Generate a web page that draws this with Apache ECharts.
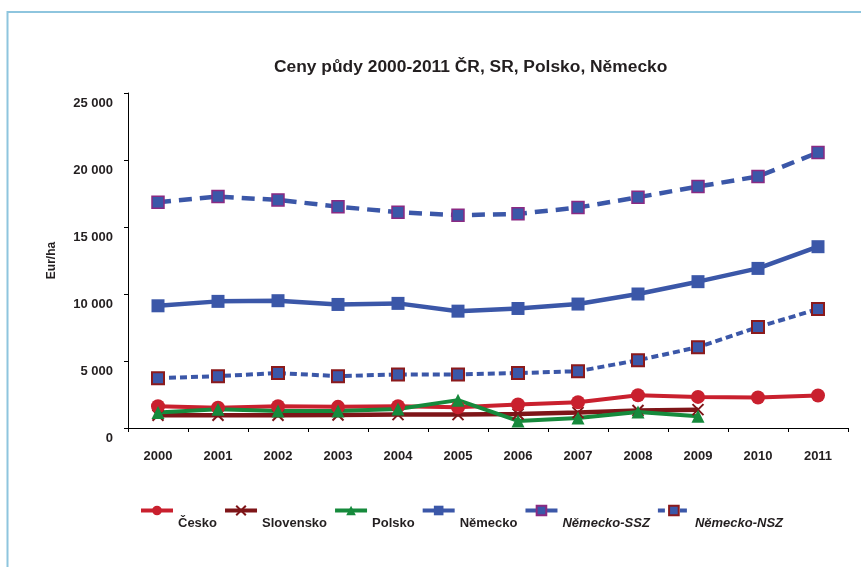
<!DOCTYPE html>
<html>
<head>
<meta charset="utf-8">
<script src="https://cdn.jsdelivr.net/npm/echarts@6/dist/echarts.min.js"></script>
<style>
  html, body { margin: 0; padding: 0; background: #fff; }
  #chart { width: 861px; height: 567px; }
</style>
</head>
<body>
<div id="chart"></div>
<script>
// Land prices (EUR/ha), 2000-2011
const years = ['2000','2001','2002','2003','2004','2005','2006','2007','2008','2009','2010','2011'];
const cesko      = [1620, 1520, 1620, 1580, 1630, 1550, 1750, 1920, 2440, 2320, 2280, 2420];
const slovensko  = [950, 950, 950, 970, 1000, 1000, 1050, 1150, 1300, 1370];
const polsko     = [1150, 1400, 1270, 1270, 1420, 2080, 530, 750, 1200, 870];
const nemecko    = [9120, 9450, 9500, 9220, 9300, 8720, 8920, 9250, 10000, 10920, 11910, 13530];
const nemeckoSSZ = [16850, 17270, 17020, 16520, 16100, 15880, 15980, 16450, 17220, 18020, 18770, 20560];
const nemeckoNSZ = [3720, 3870, 4100, 3870, 4000, 4000, 4100, 4240, 5060, 6030, 7530, 8880];
const yTicks = { min: 0, max: 25000, interval: 5000 };

const FONT = '"Liberation Sans", Arial, sans-serif';
const TXT = '#231f20';
const RED = '#c9202e', DARKRED = '#7e1518', GREEN = '#168a3c', BLUE = '#3b57a8';

const chart = echarts.init(document.getElementById('chart'));
chart.setOption({
  animation: false,
  backgroundColor: '#fff',
  textStyle: { fontFamily: FONT },
  title: {
    text: 'Ceny půdy 2000-2011 ČR, SR, Polsko, Německo',
    left: 269, top: 54,
    textStyle: { fontFamily: FONT, fontSize: 17.4, fontWeight: 'bold', color: TXT }
  },
  graphic: [{
    type: 'rect', silent: true,
    shape: { x: 7.5, y: 12, width: 900, height: 600 },
    style: { fill: 'none', stroke: '#8ec5de', lineWidth: 2 }
  }],
  grid: { left: 128, right: 13, top: 93, bottom: 139 },
  legend: {
    left: 134, top: 486,
    itemWidth: 32, itemHeight: 12, itemGap: 6,
    lineStyle: { width: 4 },
    // legend names sit one line below their line icons
    formatter: name => '\n\n' + name,
    data: [
      { name: 'Česko' },
      { name: 'Slovensko' },
      { name: 'Polsko' },
      { name: 'Německo' },
      { name: 'Německo-SSZ', textStyle: { fontStyle: 'italic' } },
      { name: 'Německo-NSZ', textStyle: { fontStyle: 'italic' } }
    ],
    textStyle: { fontFamily: FONT, fontSize: 13, fontWeight: 'bold', color: TXT, lineHeight: 13 }
  },
  xAxis: {
    type: 'category', data: years, boundaryGap: true,
    axisLine: { lineStyle: { color: '#000', width: 1 } },
    axisTick: { show: true, length: 4, inside: false, lineStyle: { color: '#000' } },
    axisLabel: { margin: 22, fontFamily: FONT, fontSize: 13, fontWeight: 'bold', color: TXT }
  },
  yAxis: {
    type: 'value', min: yTicks.min, max: yTicks.max, interval: yTicks.interval,
    name: 'Eur/ha', nameLocation: 'middle', nameGap: 70, nameRotate: 90,
    nameTextStyle: { fontFamily: FONT, fontSize: 12, fontWeight: 'bold', color: TXT },
    splitLine: { show: false },
    axisLine: { show: true, lineStyle: { color: '#000', width: 1 } },
    axisTick: { show: true, length: 4, lineStyle: { color: '#000' } },
    axisLabel: {
      margin: 15, fontFamily: FONT, fontSize: 13, fontWeight: 'bold', color: TXT,
      verticalAlign: 'top', padding: [4, 0, 0, 0],
      formatter: v => String(v).replace(/\B(?=(\d{3})+(?!\d))/g, ' ')
    }
  },
  series: [
    {
      name: 'Německo-SSZ', type: 'line', data: nemeckoSSZ,
      symbol: 'rect', symbolSize: 12,
      lineStyle: { color: BLUE, width: 4.5, type: [13, 8] },
      itemStyle: { color: BLUE, borderColor: '#8a2a83', borderWidth: 1.5 }
    },
    {
      name: 'Německo', type: 'line', data: nemecko,
      symbol: 'rect', symbolSize: 13,
      lineStyle: { color: BLUE, width: 4.5 },
      itemStyle: { color: BLUE }
    },
    {
      name: 'Německo-NSZ', type: 'line', data: nemeckoNSZ,
      symbol: 'rect', symbolSize: 12,
      lineStyle: { color: BLUE, width: 4, type: [7, 4] },
      itemStyle: { color: BLUE, borderColor: '#8b1a1c', borderWidth: 2 }
    },
    {
      name: 'Slovensko', type: 'line', data: slovensko,
      symbol: 'path://M0,0L10,10M10,0L0,10', symbolSize: 11,
      lineStyle: { color: DARKRED, width: 4.5 },
      itemStyle: { color: DARKRED, borderColor: DARKRED, borderWidth: 2 }
    },
    {
      name: 'Česko', type: 'line', data: cesko,
      symbol: 'circle', symbolSize: 14,
      lineStyle: { color: RED, width: 4 },
      itemStyle: { color: RED }
    },
    {
      name: 'Polsko', type: 'line', data: polsko,
      symbol: 'triangle', symbolSize: 13,
      lineStyle: { color: GREEN, width: 4 },
      itemStyle: { color: GREEN }
    }
  ]
});
</script>
</body>
</html>
